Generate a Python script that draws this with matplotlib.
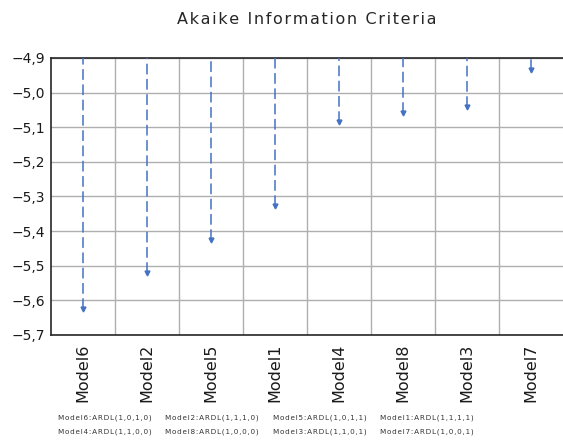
import matplotlib.pyplot as plt
import numpy as np

models = ["Model6", "Model2", "Model5", "Model1", "Model4", "Model8", "Model3", "Model7"]
aic = [-5.625, -5.522, -5.427, -5.327, -5.084, -5.058, -5.041, -4.935]
specs = ["ARDL(1,0,1,0)", "ARDL(1,1,1,0)", "ARDL(1,0,1,1)", "ARDL(1,1,1,1)",
         "ARDL(1,1,0,0)", "ARDL(1,0,0,0)", "ARDL(1,1,0,1)", "ARDL(1,0,0,1)"]
yticks = [-4.9, -5.0, -5.1, -5.2, -5.3, -5.4, -5.5, -5.6, -5.7]

blue = "#4472C4"
top = -4.9


def spaced(s, sep="\u200a"):
    return sep.join(s)


fig = plt.figure(figsize=(5.63, 4.40), dpi=100)
ax = fig.add_axes([51 / 563, 105 / 440, 512 / 563, 277 / 440])

x = np.arange(len(models))
ax.vlines(x, aic, top, colors=blue, linestyles=(0, (7, 3)), linewidth=1.1, zorder=3)
ax.plot(x, aic, linestyle="none", marker="v", markersize=3.5, color=blue, zorder=4)

ax.set_xlim(-0.5, len(models) - 0.5)
ax.set_ylim(-5.7, -4.9)
ax.set_yticks(yticks)
ax.set_yticklabels([("%.1f" % v).replace("-", "\u2212").replace(".", ",") for v in yticks],
                   fontsize=10, color="#1a1a1a")
ax.set_xticks(x)
ax.set_xticklabels(models, rotation=90, fontsize=11.5, color="#1a1a1a")
ax.set_xticks(np.arange(len(models) - 1) + 0.5, minor=True)
ax.tick_params(axis="both", which="both", length=0)
ax.tick_params(axis="x", pad=6)
ax.tick_params(axis="y", pad=4)
ax.grid(axis="y", color="#AFAFAF", linewidth=1)
ax.grid(axis="x", which="minor", color="#AFAFAF", linewidth=1)
ax.set_axisbelow(True)
for side in ["top", "bottom", "left"]:
    ax.spines[side].set_color("#262626")
    ax.spines[side].set_linewidth(1.2)
ax.spines["right"].set_visible(False)

fig.text(307 / 563, 1 - 20 / 440, spaced("Akaike Information Criteria"),
         ha="center", va="center", fontsize=11.5, color="#262626")

xs = [58, 165, 273, 380]
ys = [418, 432]
for i, (m, s) in enumerate(zip(models, specs)):
    fig.text(xs[i % 4] / 563, 1 - ys[i // 4] / 440, spaced(m + ":" + s),
             ha="left", va="center", fontsize=5.2, color="#333333")

fig.savefig("out.png", dpi=100)
